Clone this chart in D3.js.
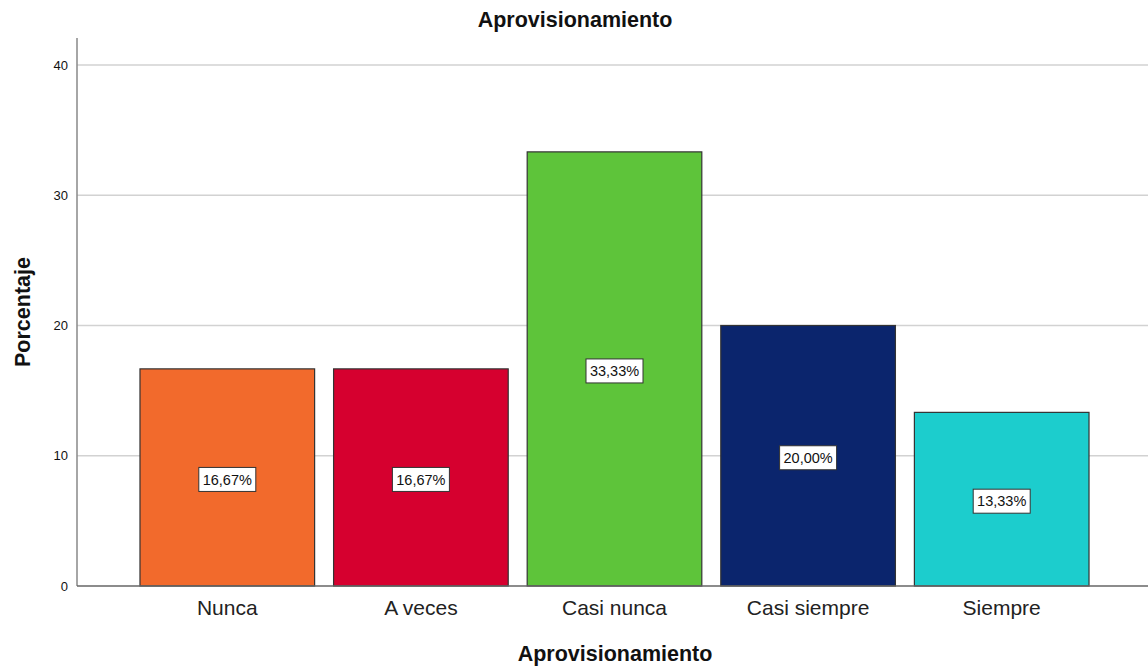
<!DOCTYPE html>
<html>
<head>
<meta charset="utf-8">
<script src="https://cdn.jsdelivr.net/npm/d3@7"></script>
<style>
  body { margin: 0; background: #fff; }
  text { font-family: "Liberation Sans", Arial, sans-serif; }
</style>
</head>
<body>
<script>
var categories = ["Nunca", "A veces", "Casi nunca", "Casi siempre", "Siempre"];
var values = [16.67, 16.67, 33.33, 20.00, 13.33];
var labels = ["16,67%", "16,67%", "33,33%", "20,00%", "13,33%"];
var colors = ["#f26a2c", "#d6002f", "#5ec43a", "#0b256d", "#1ccdcd"];
var yTicks = [0, 10, 20, 30, 40];

var width = 1148, height = 666;
var axisX = 77, axisTop = 38, baseY = 586, topY = 65;

var svg = d3.select("body").append("svg")
    .attr("width", width)
    .attr("height", height);

var y = d3.scaleLinear()
    .domain([0, 40])
    .range([baseY, topY]);

var x = d3.scaleBand()
    .domain(categories)
    .range([130.5, 1098.5])
    .paddingInner(0.098)
    .paddingOuter(0.049);

// gridlines
svg.append("g")
    .selectAll("line")
    .data(yTicks.filter(function(d) { return d > 0; }))
  .enter().append("line")
    .attr("x1", axisX)
    .attr("x2", width)
    .attr("y1", function(d) { return y(d); })
    .attr("y2", function(d) { return y(d); })
    .attr("stroke", "#d2d2d2")
    .attr("stroke-width", 1.5);

// y axis
var yAxis = d3.axisLeft(y).tickValues(yTicks).tickSize(0).tickPadding(9);
var gy = svg.append("g")
    .attr("transform", "translate(" + axisX + ",0)")
    .call(yAxis);
gy.select(".domain").remove();
gy.selectAll("text")
    .attr("font-size", 13)
    .attr("fill", "#111")
    .attr("font-family", "Liberation Sans, Arial, sans-serif");

svg.append("line")
    .attr("x1", axisX).attr("x2", axisX)
    .attr("y1", axisTop).attr("y2", baseY)
    .attr("stroke", "#888").attr("stroke-width", 1.5);

// bars
svg.append("g")
    .selectAll("rect")
    .data(values)
  .enter().append("rect")
    .attr("x", function(d, i) { return x(categories[i]); })
    .attr("y", function(d) { return y(d); })
    .attr("width", x.bandwidth())
    .attr("height", function(d) { return baseY - y(d); })
    .attr("fill", function(d, i) { return colors[i]; })
    .attr("stroke", "#333")
    .attr("stroke-width", 1.2);

// baseline
svg.append("line")
    .attr("x1", axisX).attr("x2", width)
    .attr("y1", baseY).attr("y2", baseY)
    .attr("stroke", "#666").attr("stroke-width", 1.5);

// value labels
var lab = svg.append("g")
    .selectAll("g")
    .data(values)
  .enter().append("g")
    .attr("transform", function(d, i) {
        return "translate(" + (x(categories[i]) + x.bandwidth() / 2) + "," + (y(d / 2) + 2) + ")";
    });
lab.append("rect")
    .attr("x", -28.5).attr("y", -12)
    .attr("width", 57).attr("height", 24)
    .attr("fill", "#fff")
    .attr("stroke", "#333")
    .attr("stroke-width", 1);
lab.append("text")
    .attr("text-anchor", "middle")
    .attr("dy", "0.36em")
    .attr("font-size", 14.5)
    .attr("fill", "#111")
    .text(function(d, i) { return labels[i]; });

// x category labels
svg.append("g")
    .selectAll("text")
    .data(categories)
  .enter().append("text")
    .attr("x", function(d) { return x(d) + x.bandwidth() / 2; })
    .attr("y", 615)
    .attr("text-anchor", "middle")
    .attr("font-size", 21)
    .attr("fill", "#222")
    .text(function(d) { return d; });

// titles
svg.append("text")
    .attr("x", 575).attr("y", 27)
    .attr("text-anchor", "middle")
    .attr("font-size", 21.5).attr("font-weight", "bold")
    .attr("fill", "#111")
    .text("Aprovisionamiento");

svg.append("text")
    .attr("x", 615).attr("y", 661)
    .attr("text-anchor", "middle")
    .attr("font-size", 21.5).attr("font-weight", "bold")
    .attr("fill", "#111")
    .text("Aprovisionamiento");

svg.append("text")
    .attr("transform", "translate(30,312) rotate(-90)")
    .attr("text-anchor", "middle")
    .attr("font-size", 21.5).attr("font-weight", "bold")
    .attr("fill", "#111")
    .text("Porcentaje");
</script>
</body>
</html>
